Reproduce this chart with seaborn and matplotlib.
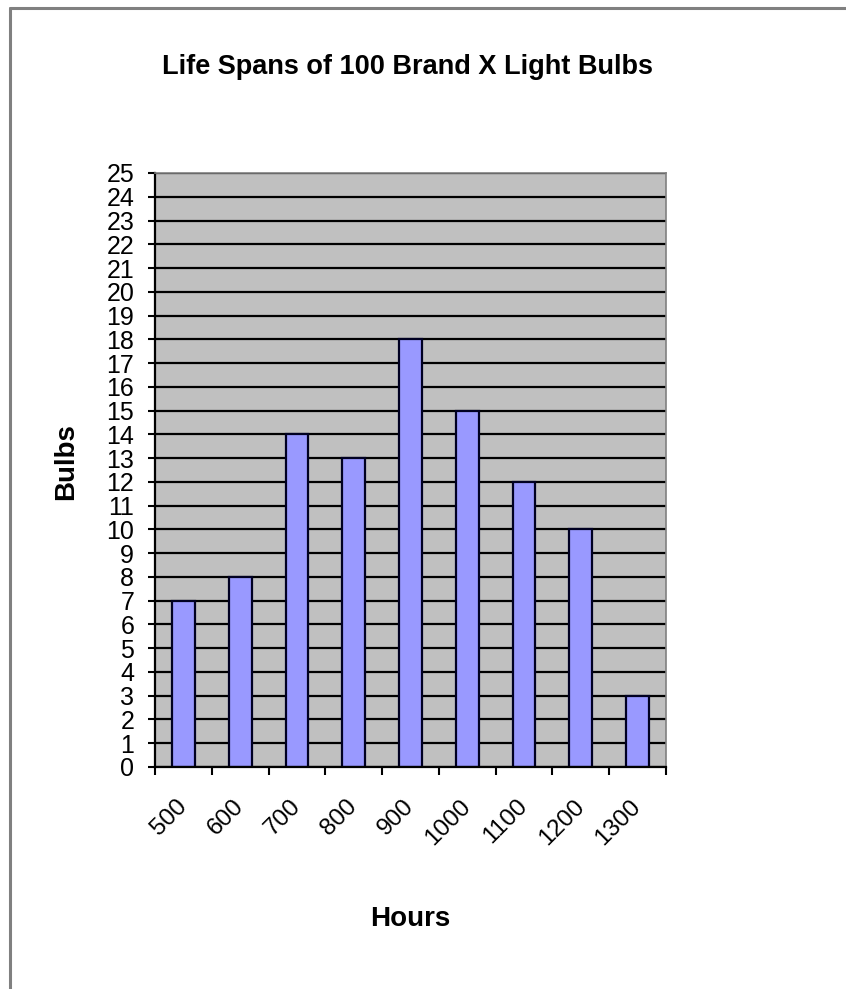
###############################################################################
###  Histogram-style bar chart: life spans of light bulbs                    ###
###############################################################################

import matplotlib
matplotlib.use('Agg')
import matplotlib.pyplot as plt
from matplotlib.lines import Line2D
import seaborn as sns
import numpy as np
import pandas as pd

#------------------------------------------------------------------------------
### Data

hours = ['500', '600', '700', '800', '900', '1000', '1100', '1200', '1300']
bulbs = [7, 8, 14, 13, 18, 15, 12, 10, 3]
y_ticks = list(range(0, 26))

#------------------------------------------------------------------------------
### Constants

FIG_W, FIG_H, DPI = 8.46, 9.89, 100
PLOT_BG = '#C0C0C0'
BAR_COLOR = '#9999FF'
BORDER_COLOR = '#808080'

#------------------------------------------------------------------------------
### Figure

sns.set_style('white')
plt.rcParams['font.family'] = ['Liberation Sans', 'DejaVu Sans']
plt.rcParams['text.color'] = 'black'
plt.rcParams['xtick.color'] = 'black'
plt.rcParams['ytick.color'] = 'black'
plt.rcParams['axes.labelcolor'] = 'black'

df = pd.DataFrame({'Hours': hours, 'Bulbs': bulbs})

fig = plt.figure(figsize=(FIG_W, FIG_H), dpi=DPI)
ax = fig.add_axes([155 / 846, 1 - 767 / 989, 511 / 846, 594 / 989])
ax.set_facecolor(PLOT_BG)

sns.barplot(data=df, x='Hours', y='Bulbs', color=BAR_COLOR, width=0.4,
            edgecolor='#000022', linewidth=1.6, saturation=1, ax=ax)

# Horizontal gridlines at every integer
ax.set_axisbelow(True)
ax.set_ylim(0, 25)
ax.set_yticks(y_ticks)
ax.yaxis.grid(True, color='black', linewidth=1.6)
ax.xaxis.grid(False)

# x ticks: marks at category boundaries, labels at centres
ax.set_xlim(-0.5, len(hours) - 0.5)
ax.set_xticks(np.arange(len(hours)))
ax.set_xticklabels(hours, rotation=45, ha='right', va='center',
                   rotation_mode='anchor')
ax.set_xticks(np.arange(len(hours) + 1) - 0.5, minor=True)
ax.tick_params(axis='x', which='major', length=0, pad=26, labelsize=17.5)
ax.tick_params(axis='x', which='minor', length=6, width=1.5, color='black',
               direction='out', bottom=True)
ax.tick_params(axis='y', which='major', length=5, width=1.5, color='black',
               direction='out', left=True, pad=10, labelsize=18)

# Spines
for side in ['left', 'bottom']:
    ax.spines[side].set_color('black')
    ax.spines[side].set_linewidth(1.6)
for side in ['top', 'right']:
    ax.spines[side].set_color(BORDER_COLOR)
    ax.spines[side].set_linewidth(1.2)

# Labels and title
ax.set_xlabel('Hours', fontsize=20, fontweight='bold')
ax.xaxis.set_label_coords(0.5, -(906 - 767) / 594)
ax.set_ylabel('Bulbs', fontsize=20, fontweight='bold')
ax.yaxis.set_label_coords(-(155 - 79) / 511, (767 - 462) / 594)
fig.text(407 / 846, 1 - 67 / 989, 'Life Spans of 100 Brand X Light Bulbs',
         ha='center', va='center', fontsize=19.5, fontweight='bold')

# Gray frame on the left and top of the picture
fig.add_artist(Line2D([10 / 846, 10 / 846], [0, 1 - 8 / 989],
                      color=BORDER_COLOR, linewidth=2.2))
fig.add_artist(Line2D([10 / 846, 1], [1 - 8 / 989, 1 - 8 / 989],
                      color=BORDER_COLOR, linewidth=2.2))

fig.savefig('out.png', dpi=DPI)
plt.close(fig)
